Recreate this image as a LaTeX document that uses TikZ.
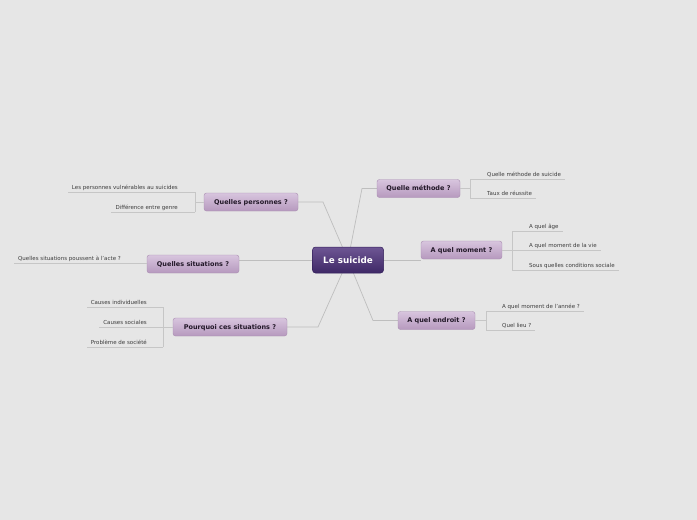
\documentclass[tikz,border=0pt]{standalone}
\usepackage{fontspec}
\setmainfont{DejaVu Sans}
\usetikzlibrary{calc}
\pgfdeclarelayer{background}
\pgfsetlayers{background,main}
\definecolor{bgc}{HTML}{E6E6E6}
\definecolor{roottop}{HTML}{6E5694}
\definecolor{rootbot}{HTML}{3E2866}
\definecolor{rootdraw}{HTML}{33205A}
\definecolor{brtop}{HTML}{D8C5DE}
\definecolor{brbot}{HTML}{B699BE}
\definecolor{brdraw}{HTML}{A88DB0}
\definecolor{brtext}{HTML}{221828}
\definecolor{leaftext}{HTML}{3C3C3C}
\definecolor{connc}{HTML}{BEBEBE}
\definecolor{subc}{HTML}{C6C6C6}
\tikzset{
  root/.style={rounded corners=3pt, top color=roottop, bottom color=rootbot, draw=rootdraw, line width=0.5pt,
    minimum width=71pt, minimum height=26pt, inner sep=0pt, text=white, text height=7pt, text depth=0.6pt,
    font=\fontsize{8.8}{10}\selectfont\bfseries},
  branch/.style={rounded corners=2.5pt, top color=brtop, bottom color=brbot, draw=brdraw, line width=0.4pt,
    minimum height=18pt, inner sep=0pt, text=brtext, text height=5.2pt, text depth=0.4pt,
    font=\fontsize{6.5}{7.5}\selectfont\bfseries},
  leafR/.style={anchor=base west, inner sep=0pt, text=leaftext, font=\fontsize{5.5}{6.5}\selectfont},
  leafL/.style={anchor=base east, inner sep=0pt, text=leaftext, font=\fontsize{5.5}{6.5}\selectfont},
  conn/.style={draw=connc, line width=0.7pt},
  sub/.style={draw=subc, line width=0.8pt},
}
\begin{document}
\begin{tikzpicture}[x=1pt,y=-1pt]
\begin{pgfonlayer}{background}
\fill[bgc] (0,0) rectangle (697,520);
\end{pgfonlayer}
\useasboundingbox (0,0) rectangle (697,520);

% root
\node[root] (root) at (348,260) {Le suicide};
% branches
\node[branch, minimum width=83pt] (meth) at (418.5,188.5) {Quelle méthode ?};
\node[branch, minimum width=81pt] (moment) at (461.5,250) {A quel moment ?};
\node[branch, minimum width=77pt] (endroit) at (436.5,320.5) {A quel endroit ?};
\node[branch, minimum width=94pt] (pers) at (251,202) {Quelles personnes ?};
\node[branch, minimum width=92pt] (sit) at (193,264) {Quelles situations ?};
\node[branch, minimum width=114pt] (pourq) at (230,327) {Pourquoi ces situations ?};

% knees
\coordinate (kmeth) at (362,188.5);
\coordinate (kpers) at (323,202);
\coordinate (kpourq) at (318,327);
\coordinate (kendroit) at (373,320.5);

\begin{pgfonlayer}{background}
\draw[conn] (root.center) -- (kmeth) -- (meth.west);
\draw[conn] (root.center) -- (kpers) -- (pers.east);
\draw[conn] (root.center) -- (kpourq) -- (pourq.east);
\draw[conn] (root.center) -- (kendroit) -- (endroit.west);
\draw[conn] (root.center) -- (root.center -| moment.west);
\draw[conn] (root.center) -- (root.center -| sit.east);
\end{pgfonlayer}

% ---- Quelle méthode children
\node[leafR] (m1) at (487,176) {Quelle méthode de suicide};
\node[leafR] (m2) at (487,195.5) {Taux de réussite};
\coordinate (bm1) at (470,179);
\coordinate (bm2) at (470,198);
\draw[sub] (meth.east) -- (meth.east -| bm1);
\draw[sub] (bm1) -- (bm2);
\draw[sub] (bm1) -- (bm1 -| {$(m1.east)+(4,0)$});
\draw[sub] (bm2) -- (bm2 -| {$(m2.east)+(4,0)$});

% ---- A quel moment children
\node[leafR] (t1) at (529,228) {A quel âge};
\node[leafR] (t2) at (529,247.5) {A quel moment de la vie};
\node[leafR] (t3) at (529,267.5) {Sous quelles conditions sociale};
\coordinate (bt1) at (512,231);
\coordinate (bt2) at (512,250);
\coordinate (bt3) at (512,270);
\draw[sub] (moment.east) -- (bt2);
\draw[sub] (bt1) -- (bt3);
\draw[sub] (bt1) -- (bt1 -| {$(t1.east)+(4,0)$});
\draw[sub] (bt2) -- (bt2 -| {$(t2.east)+(4,0)$});
\draw[sub] (bt3) -- (bt3 -| {$(t3.east)+(4,0)$});

% ---- A quel endroit children
\node[leafR] (e1) at (502,308) {A quel moment de l'année ?};
\node[leafR] (e2) at (502,327.5) {Quel lieu ?};
\coordinate (be1) at (486,311);
\coordinate (be2) at (486,330);
\draw[sub] (endroit.east) -- (endroit.east -| be1);
\draw[sub] (be1) -- (be2);
\draw[sub] (be1) -- (be1 -| {$(e1.east)+(4,0)$});
\draw[sub] (be2) -- (be2 -| {$(e2.east)+(4,0)$});

% ---- Quelles personnes children
\node[leafL] (p1) at (178,189) {Les personnes vulnérables au suicides};
\node[leafL] (p2) at (178,209) {Différence entre genre};
\coordinate (bp1) at (195,192);
\coordinate (bp2) at (195,212);
\draw[sub] (pers.west) -- (pers.west -| bp1);
\draw[sub] (bp1) -- (bp2);
\draw[sub] (bp1) -- (bp1 -| {$(p1.west)+(-4,0)$});
\draw[sub] (bp2) -- (bp2 -| {$(p2.west)+(-4,0)$});

% ---- Quelles situations child
\node[leafL] (s1) at (121,260.3) {Quelles situations poussent à l'acte ?};
\coordinate (bs1) at (147,263);
\draw[sub] (sit.west |- bs1) -- (bs1 -| {$(s1.west)+(-4,0)$});

% ---- Pourquoi children
\node[leafL] (q1) at (147,304) {Causes individuelles};
\node[leafL] (q2) at (147,324) {Causes sociales};
\node[leafL] (q3) at (147,344) {Problème de société};
\coordinate (bq1) at (163,307);
\coordinate (bq2) at (163,327);
\coordinate (bq3) at (163,347);
\draw[sub] (bq1) -- (bq3);
\draw[sub] (pourq.west) -- (pourq.west -| {$(q2.west)+(-4,0)$});
\draw[sub] (bq1) -- (bq1 -| {$(q1.west)+(-4,0)$});
\draw[sub] (bq3) -- (bq3 -| {$(q3.west)+(-4,0)$});
\end{tikzpicture}
\end{document}
